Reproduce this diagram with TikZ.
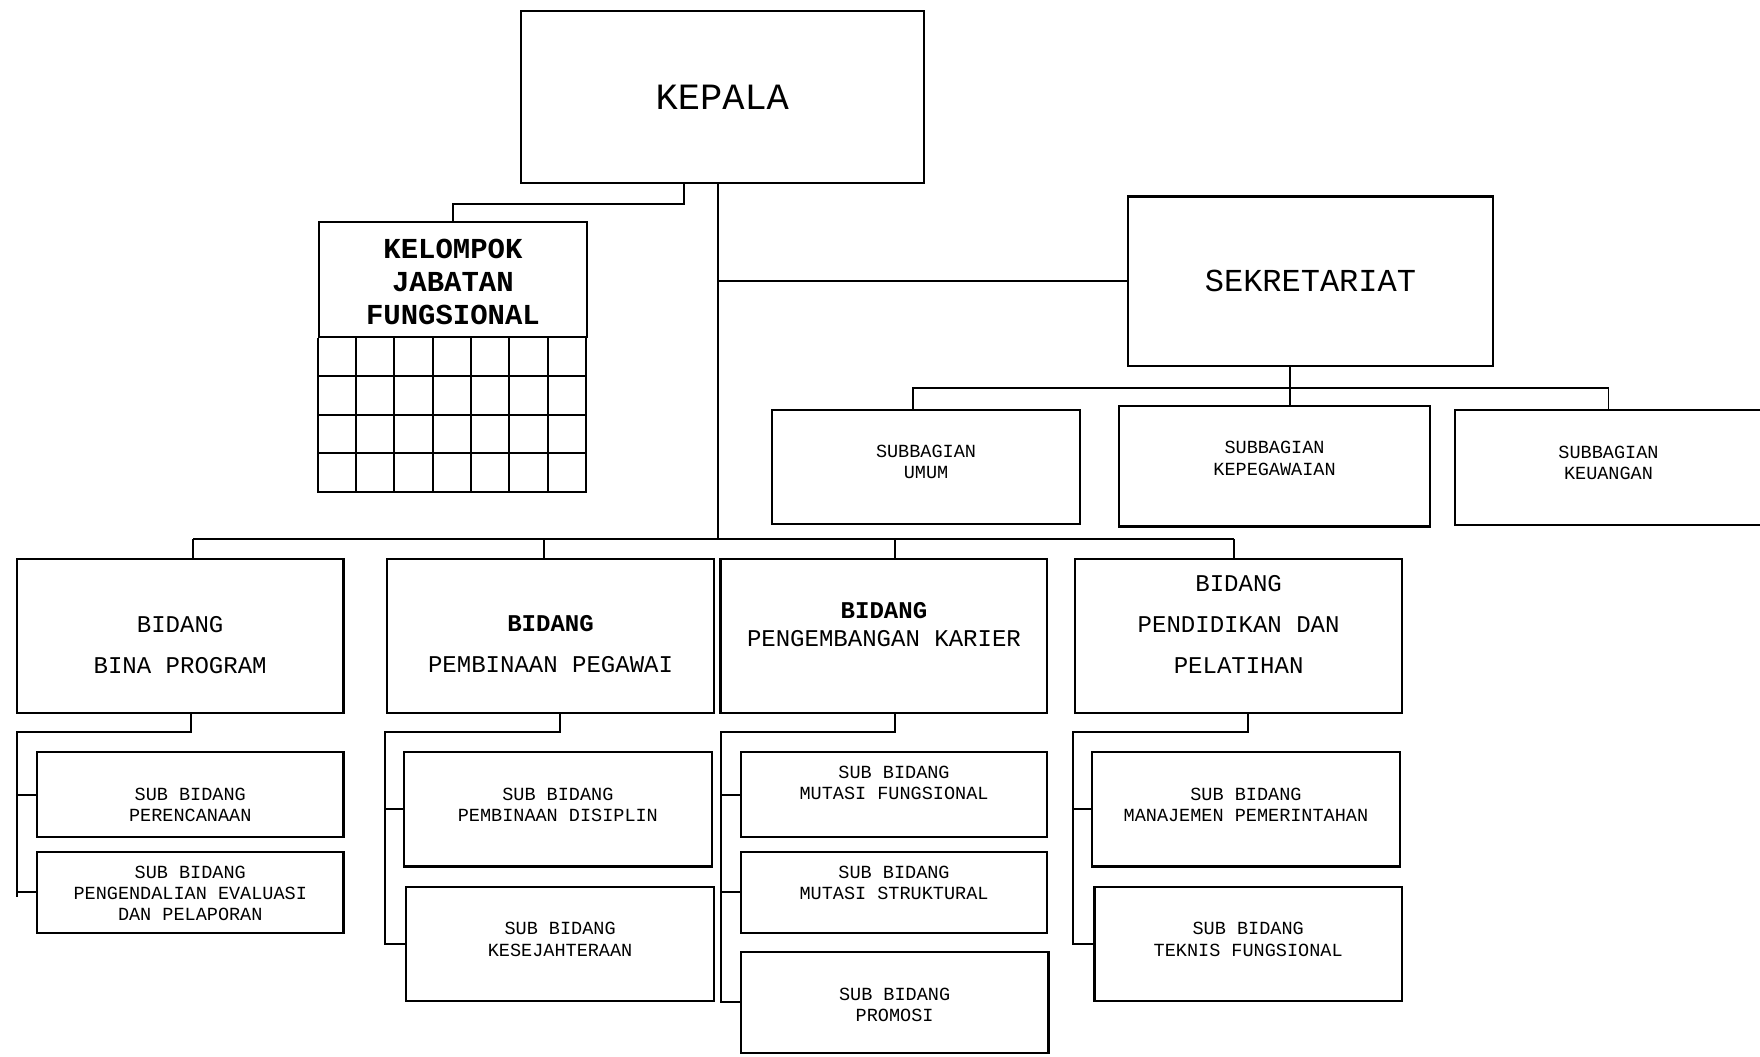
\documentclass[tikz,border=0pt]{standalone}
\usepackage{fontspec}
\setmainfont{Liberation Mono}
\tikzset {
  org box/.style = {
    draw = black,
    line width = 2pt,
    rectangle,
    inner sep = 0
  },
  box size/.style 2 args = {
    minimum width = #1pt,
    minimum height = #2pt
  },
  % text written inside a box
  box text/.style = {
    align = center,
    inner sep = 0
  },
  head text/.style = {
    box text,
    font = \fontsize{21.4}{37}\selectfont
  },
  sub text/.style = {
    box text,
    font = \fontsize{16.5}{19}\selectfont
  },
  % connector
  link/.style = {
    draw = black,
    line width = 1.7pt
  }
}

\begin{document}
\begin{tikzpicture}[x=1pt,y=-1pt]
    \useasboundingbox (0,0) rectangle (1568,941);

    \node[org box, box size={359}{153}, font=\fontsize{33}{40}\selectfont]
      (kepala) at (643.5,86.5) {KEPALA};
    \node[org box, box size={239}{102},
      label={[box text, yshift=-2.5pt, font=\bfseries\fontsize{25.8}{29.5}\selectfont]center:{KELOMPOK\\JABATAN\\FUNGSIONAL}}]
      (kelompok) at (403.5,249) {};
    \node[org box, box size={325}{151}, font=\fontsize{28.5}{34}\selectfont]
      (sekretariat) at (1167.5,250.5) {SEKRETARIAT};

    \node[org box, box size={274}{102}, label={[sub text, yshift=4.5pt]center:{SUBBAGIAN\\UMUM}}]
      (umum) at (825,416) {};
    \node[org box, box size={277}{107}, label={[sub text, yshift=7pt]center:{SUBBAGIAN\\KEPEGAWAIAN}}]
      (kepegawaian) at (1135.5,415.5) {};
    \node[org box, box size={274}{103}, label={[sub text, yshift=4pt]center:{SUBBAGIAN\\KEUANGAN}}]
      (keuangan) at (1433,416.5) {};

    \node[org box, box size={291}{137}, label={[head text, yshift=-8pt]center:{BIDANG\\BINA PROGRAM}}]
      (bina) at (160.5,566.5) {};
    \node[org box, box size={291}{137}, label={[head text, yshift=-7.5pt]center:{\textbf{BIDANG}\\PEMBINAAN PEGAWAI}}]
      (pembinaan) at (490.5,566.5) {};
    \node[org box, box size={291}{137}, label={[head text, yshift=10pt, font=\fontsize{21.4}{25}\selectfont]center:{\textbf{BIDANG}\\PENGEMBANGAN KARIER}}]
      (pengembangan) at (787.5,566.5) {};
    \node[org box, box size={291}{137}, label={[head text, yshift=10pt, font=\fontsize{21.4}{36.5}\selectfont]center:{BIDANG\\PENDIDIKAN DAN\\PELATIHAN}}]
      (pendidikan) at (1103.5,566.5) {};

    % sub bidang
    \node[org box, box size={273}{76}, label={[sub text, yshift=-9pt]center:{SUB BIDANG\\PERENCANAAN}}]
      (perencanaan) at (169.5,708) {};
    \node[org box, box size={273}{72}, label={[sub text, yshift=-1pt]center:{SUB BIDANG\\PENGENDALIAN EVALUASI\\DAN PELAPORAN}}]
      (pengendalian) at (169.5,795) {};
    \node[org box, box size={274}{102}, label={[sub text, yshift=4pt]center:{SUB BIDANG\\PEMBINAAN DISIPLIN}}]
      (disiplin) at (497,721) {};
    \node[org box, box size={274}{102}, label={[sub text, yshift=4pt]center:{SUB BIDANG\\KESEJAHTERAAN}}]
      (kesejahteraan) at (499,841) {};
    \node[org box, box size={273}{76}, label={[sub text, yshift=10.5pt]center:{SUB BIDANG\\MUTASI FUNGSIONAL}}]
      (fungsional) at (796.5,708) {};
    \node[org box, box size={273}{72}, label={[sub text, yshift=8.5pt]center:{SUB BIDANG\\MUTASI STRUKTURAL}}]
      (struktural) at (796.5,795) {};
    \node[org box, box size={274}{90}, label={[sub text, yshift=-2pt]center:{SUB BIDANG\\PROMOSI}}]
      (promosi) at (797,893) {};
    \node[org box, box size={274}{102}, label={[sub text, yshift=4pt]center:{SUB BIDANG\\MANAJEMEN PEMERINTAHAN}}]
      (manajemen) at (1110,721) {};
    \node[org box, box size={274}{102}, label={[sub text, yshift=4pt]center:{SUB BIDANG\\TEKNIS FUNGSIONAL}}]
      (teknis) at (1112,841) {};

    % grid under kelompok jabatan fungsional
    \draw[link] (kelompok.south west) -- ++(0,137) -- ++(239,0) -- ++(0,-137);
    \foreach \col in {1,...,6}
      \draw[link] ([xshift=\col*34.14pt]kelompok.south west) -- ++(0,137);
    \foreach \row in {1,...,3}
      \draw[link] ([yshift=-\row*34.25pt]kelompok.south west) -- ++(239,0);

    \coordinate (trunk) at (640,480);
    \coordinate (bus-bina) at (172,480);
    \coordinate (bus-pembinaan) at (485,480);
    \coordinate (bus-pengembangan) at (797,480);
    \coordinate (bus-pendidikan) at (1099,480);
    \coordinate (sub-bus) at (1149,346);

    \draw[link] ([xshift=-34.5pt]kepala.south)
    -- ++(0,18)
    -| (kelompok.north);

    \draw[link] (kepala.south -| trunk)
    -- (trunk);

    \draw[link] (sekretariat.west)
    -- (sekretariat.west -| trunk);

    \draw[link] (sekretariat.south -| sub-bus)
    -- (kepegawaian.north -| sub-bus);

    \draw[link] ([xshift=-12pt]umum.north)
    |- (sub-bus)
    -| (keuangan.north);

    \draw[link] (bus-bina)
    -- (bus-pendidikan);

    \foreach \b in {bina,pembinaan,pengembangan,pendidikan}
      \draw[link] (bus-\b) -- (bus-\b |- \b.north);

    % sub bidang connectors
    \coordinate (drop-bina) at (170,652);
    \coordinate (elbow-bina) at (15,652);
    \draw[link] (drop-bina |- bina.south)
    -- (drop-bina)
    -- (elbow-bina)
    -- ([yshift=-4pt]elbow-bina |- pengendalian.west);
    \draw[link] (perencanaan.west) -- (perencanaan.west -| elbow-bina);
    \draw[link] (pengendalian.west) -- (pengendalian.west -| elbow-bina);

    \coordinate (drop-pembinaan) at (499,652);
    \coordinate (elbow-pembinaan) at (343,652);
    \draw[link] (drop-pembinaan |- pembinaan.south)
    -- (drop-pembinaan)
    -- (elbow-pembinaan)
    |- (kesejahteraan.west);
    \draw[link] (disiplin.west) -- (disiplin.west -| elbow-pembinaan);

    \coordinate (drop-pengembangan) at (797,652);
    \coordinate (elbow-pengembangan) at (642,652);
    \draw[link] (drop-pengembangan |- pengembangan.south)
    -- (drop-pengembangan)
    -- (elbow-pengembangan)
    |- (promosi.west);
    \draw[link] (fungsional.west) -- (fungsional.west -| elbow-pengembangan);
    \draw[link] (struktural.west) -- (struktural.west -| elbow-pengembangan);

    \coordinate (drop-pendidikan) at (1112,652);
    \coordinate (elbow-pendidikan) at (956,652);
    \draw[link] (drop-pendidikan |- pendidikan.south)
    -- (drop-pendidikan)
    -- (elbow-pendidikan)
    |- (teknis.west);
    \draw[link] (manajemen.west) -- (manajemen.west -| elbow-pendidikan);
\end{tikzpicture}
\end{document}
